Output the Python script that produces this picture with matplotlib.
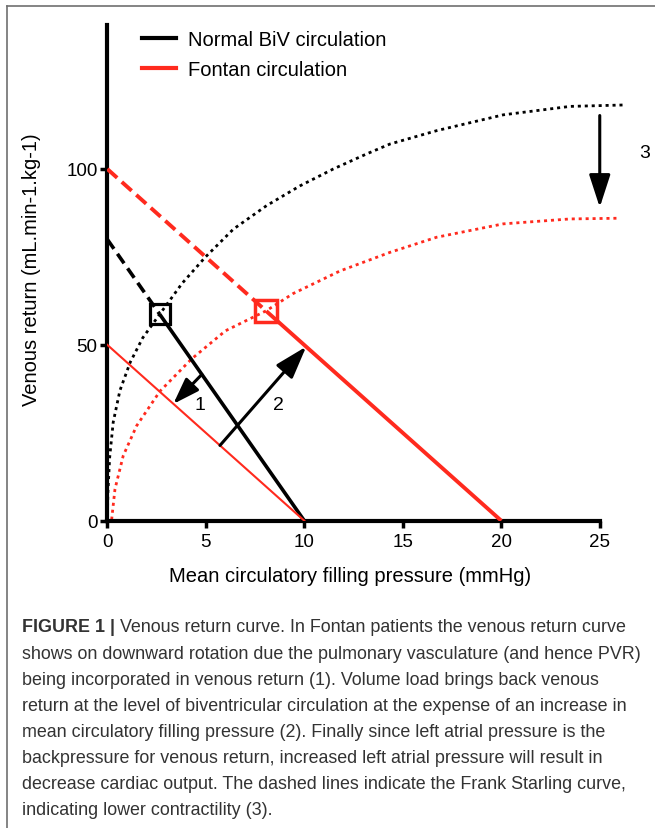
import numpy as np
import matplotlib.pyplot as plt
from matplotlib.lines import Line2D

plt.rcParams['font.family'] = ['Liberation Sans', 'DejaVu Sans']

# Venous return lines (x = mean circulatory filling pressure, y = venous return)
biv_x = [0.0, 2.66, 10.0]
biv_y = [80.0, 58.7, 0.0]
fontan_x = [0.0, 8.07, 20.0]
fontan_y = [100.0, 59.6, 0.0]
rotated_x = [0.0, 10.0]
rotated_y = [50.0, 0.0]

# Frank-Starling curves
fs_biv_x = [0.0, 0.03, 0.12, 0.3, 0.64, 1.16, 1.8, 2.66, 3.8, 4.97, 6.40,
            8.09, 9.78, 11.47, 13.17, 14.35, 16.72, 20.1, 23.49, 26.2]
fs_biv_y = [0.0, 8.0, 18.0, 28.0, 37.0, 45.0, 52.0, 58.7, 67.5, 74.9, 82.9,
            89.6, 95.2, 100.0, 104.3, 107.1, 110.9, 115.4, 117.8, 118.2]
fs_fontan_x = [0.22, 0.39, 0.81, 1.49, 2.67, 4.28, 6.0, 8.07, 9.44, 11.81,
               14.35, 16.72, 20.1, 23.49, 25.94]
fs_fontan_y = [0.3, 9.0, 18.5, 27.0, 36.8, 46.0, 54.0, 59.7, 64.6, 71.0,
               76.3, 80.6, 84.4, 85.8, 86.0]

# Arrows: (start, end)
arrow1 = ((4.8, 41.6), (3.35, 33.2))
arrow2 = ((5.72, 21.4), (10.1, 49.5))
arrow3 = ((25.0, 115.2), (25.0, 89.1))
arrow_labels = ["1", "2", "3"]
label_pos = [(4.71, 33.1), (8.67, 33.1), (27.3, 104.8)]

xticks = [0, 5, 10, 15, 20, 25]
yticks = [0, 50, 100]

caption_bold = "FIGURE 1 | "
caption_lines = [
    "Venous return curve. In Fontan patients the venous return curve",
    "shows on downward rotation due the pulmonary vasculature (and hence PVR)",
    "being incorporated in venous return (1). Volume load brings back venous",
    "return at the level of biventricular circulation at the expense of an increase in",
    "mean circulatory filling pressure (2). Finally since left atrial pressure is the",
    "backpressure for venous return, increased left atrial pressure will result in",
    "decrease cardiac output. The dashed lines indicate the Frank Starling curve,",
    "indicating lower contractility (3).",
]

RED = '#ff2a1e'
W, H = 655, 829
LABEL_FS = 14.5

fig = plt.figure(figsize=(W / 100, H / 100), dpi=100)
ax = fig.add_axes([107.3 / W, 1 - 521.7 / H, 522 / W, 495.9 / H])
ax.set_xlim(0, 26.5)
ax.set_ylim(0, 141)

# Frank-Starling dotted curves
ax.plot(fs_biv_x, fs_biv_y, color='black', lw=2.0,
        linestyle=(0, (1.1, 1.4)), clip_on=False, zorder=2)
ax.plot(fs_fontan_x, fs_fontan_y, color=RED, lw=2.0,
        linestyle=(0, (1.1, 1.4)), clip_on=False, zorder=2)

# venous return lines: dashed up to the operating point, solid after
ax.plot(biv_x[:2], biv_y[:2], color='black', lw=2.6,
        linestyle=(0, (3.2, 1.7)), zorder=3)
ax.plot(biv_x[1:], biv_y[1:], color='black', lw=2.6, zorder=3,
        solid_capstyle='butt')
ax.plot(fontan_x[:2], fontan_y[:2], color=RED, lw=2.8,
        linestyle=(0, (3.4, 1.6)), zorder=3)
ax.plot(fontan_x[1:], fontan_y[1:], color=RED, lw=2.8, zorder=3,
        solid_capstyle='butt')
ax.plot(rotated_x, rotated_y, color=RED, lw=1.5, zorder=3)

# operating points
ax.plot(biv_x[1], biv_y[1], marker='s', ms=15, mfc='none', mec='black',
        mew=2.3, zorder=4)
ax.plot(fontan_x[1], fontan_y[1], marker='s', ms=16.5, mfc='none', mec=RED,
        mew=2.5, zorder=4)

# arrows
heads = ['-|>,head_length=1.6,head_width=0.55',
         '-|>,head_length=2.0,head_width=0.65',
         '-|>,head_length=2.0,head_width=0.65']
for (start, end), style in zip([arrow1, arrow2, arrow3], heads):
    ax.annotate('', xy=end, xytext=start,
                arrowprops=dict(arrowstyle=style, color='black', lw=2.2,
                                mutation_scale=10, shrinkA=0, shrinkB=0),
                annotation_clip=False, zorder=5)
for lab, (lx, ly) in zip(arrow_labels, label_pos):
    ax.text(lx, ly, lab, fontsize=14, ha='center', va='center',
            clip_on=False)

# axes styling
for s in ['top', 'right']:
    ax.spines[s].set_visible(False)
ax.spines['left'].set_linewidth(3)
ax.spines['bottom'].set_linewidth(3)
ax.spines['left'].set_bounds(0, 141)
ax.spines['bottom'].set_bounds(0, 25)
ax.set_xticks(xticks)
ax.set_yticks(yticks)
ax.tick_params(direction='out', length=5, width=2.5, labelsize=13.5,
               pad=2)
ax.tick_params(axis='x', pad=4)

fig.text(350 / W, 1 - 576 / H, "Mean circulatory filling pressure (mmHg)",
         fontsize=LABEL_FS, ha='center', va='center')
fig.text(32 / W, 1 - 270 / H, "Venous return (mL.min-1.kg-1)",
         fontsize=LABEL_FS, ha='center', va='center', rotation=90)

# legend
handles = [Line2D([], [], color='black', lw=3),
           Line2D([], [], color=RED, lw=3)]
fig.legend(handles, ["Normal BiV circulation", "Fontan circulation"],
           loc='upper left', bbox_to_anchor=(142 / W, 1 - 31 / H),
           frameon=False, fontsize=LABEL_FS, handlelength=1.7,
           handletextpad=0.6, labelspacing=0.55, borderpad=0,
           borderaxespad=0)

# frame lines of the figure panel
fig.add_artist(Line2D([7 / W, 7 / W], [0, 1 - 7 / H], color='#707070',
                      lw=1.2))
fig.add_artist(Line2D([7 / W, 1], [1 - 7 / H, 1 - 7 / H], color='#707070',
                      lw=1.2))

# caption
cap_color = '#333333'
cap_fs = 12.9
y0 = 628
dy = 26.1
bold = fig.text(22 / W, 1 - y0 / H, caption_bold, fontsize=cap_fs,
                fontweight='bold', color=cap_color, va='center')
ax.annotate(caption_lines[0], xy=(1, 0.5), xycoords=bold, va='center',
            fontsize=cap_fs, color=cap_color)
for i, line in enumerate(caption_lines[1:], start=1):
    fig.text(22 / W, 1 - (y0 + i * dy) / H, line, fontsize=cap_fs,
             color=cap_color, va='center')

fig.savefig('out.png', dpi=100)
